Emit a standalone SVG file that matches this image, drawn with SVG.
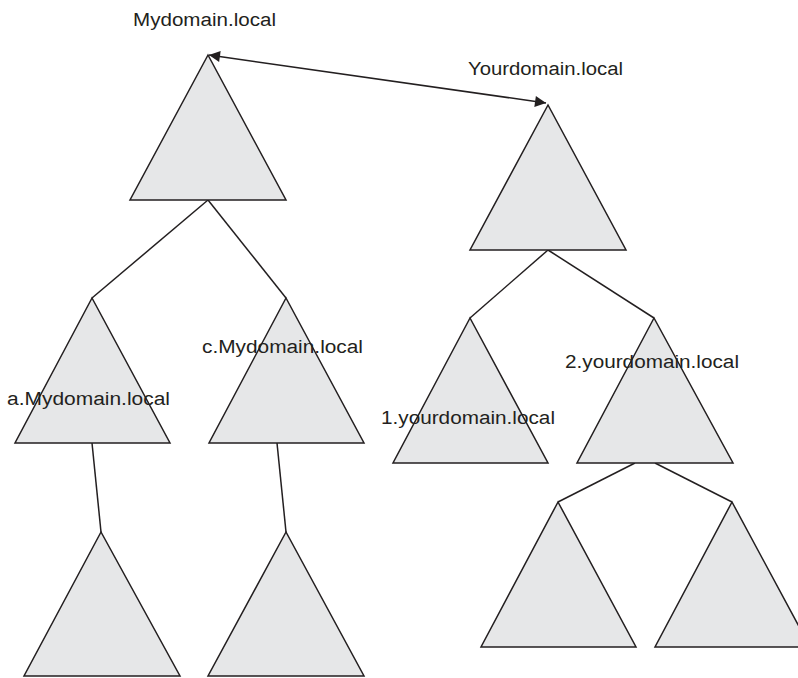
<svg xmlns="http://www.w3.org/2000/svg" width="798" height="678" viewBox="0 0 798 678">
<defs>
<marker id="ah" viewBox="0 0 10 10" refX="10" refY="5" markerWidth="14" markerHeight="11" markerUnits="userSpaceOnUse" orient="auto-start-reverse">
<path d="M0,0 L10,5 L0,10 Z" fill="#231f20"/>
</marker>
<style>
.tri{fill:#e6e7e8;stroke:#231f20;stroke-width:1.5;stroke-linejoin:miter}
.ln{fill:none;stroke:#231f20;stroke-width:1.5}
.lbl{font-family:"Liberation Sans",Arial,sans-serif;font-size:18px;fill:#231f20}
</style>
</defs>
<rect width="798" height="678" fill="#ffffff"/>
<g id="connectors">
<line class="ln" x1="208" y1="200" x2="92" y2="298"/>
<line class="ln" x1="208" y1="200" x2="286" y2="298"/>
<line class="ln" x1="92" y1="443" x2="101" y2="532"/>
<line class="ln" x1="277" y1="443" x2="286" y2="532"/>
<line class="ln" x1="548" y1="250" x2="470" y2="318"/>
<line class="ln" x1="548" y1="250" x2="654" y2="318"/>
<line class="ln" x1="635" y1="463" x2="558" y2="502"/>
<line class="ln" x1="655" y1="463" x2="732" y2="502"/>
<line class="ln" x1="209" y1="55" x2="546" y2="103" marker-start="url(#ah)" marker-end="url(#ah)"/>
</g>
<g id="mydomain">
<polygon class="tri" points="208,55 130,200 286,200"/>
<text class="lbl" x="133" y="26" textLength="143" lengthAdjust="spacingAndGlyphs">Mydomain.local</text>
</g>
<g id="yourdomain">
<polygon class="tri" points="548,105 470,250 626,250"/>
<text class="lbl" x="468" y="75" textLength="155" lengthAdjust="spacingAndGlyphs">Yourdomain.local</text>
</g>
<g id="a-mydomain">
<polygon class="tri" points="92,298 15,443 170,443"/>
<text class="lbl" x="7" y="405" textLength="163" lengthAdjust="spacingAndGlyphs">a.Mydomain.local</text>
</g>
<g id="c-mydomain">
<polygon class="tri" points="286,298 209,443 364,443"/>
<text class="lbl" x="202" y="353" textLength="161" lengthAdjust="spacingAndGlyphs">c.Mydomain.local</text>
</g>
<g id="a-child">
<polygon class="tri" points="101,532 24,676 180,676"/>
</g>
<g id="c-child">
<polygon class="tri" points="286,532 208,676 364,676"/>
</g>
<g id="yourdomain-1">
<polygon class="tri" points="470,318 393,463 548,463"/>
<text class="lbl" x="381" y="424" textLength="174" lengthAdjust="spacingAndGlyphs">1.yourdomain.local</text>
</g>
<g id="yourdomain-2">
<polygon class="tri" points="654,318 577,463 733,463"/>
<text class="lbl" x="565" y="368" textLength="174" lengthAdjust="spacingAndGlyphs">2.yourdomain.local</text>
</g>
<g id="y2-child-left">
<polygon class="tri" points="558,502 481,647 636,647"/>
</g>
<g id="y2-child-right">
<polygon class="tri" points="732,502 655,647 810,647"/>
</g>
</svg>
